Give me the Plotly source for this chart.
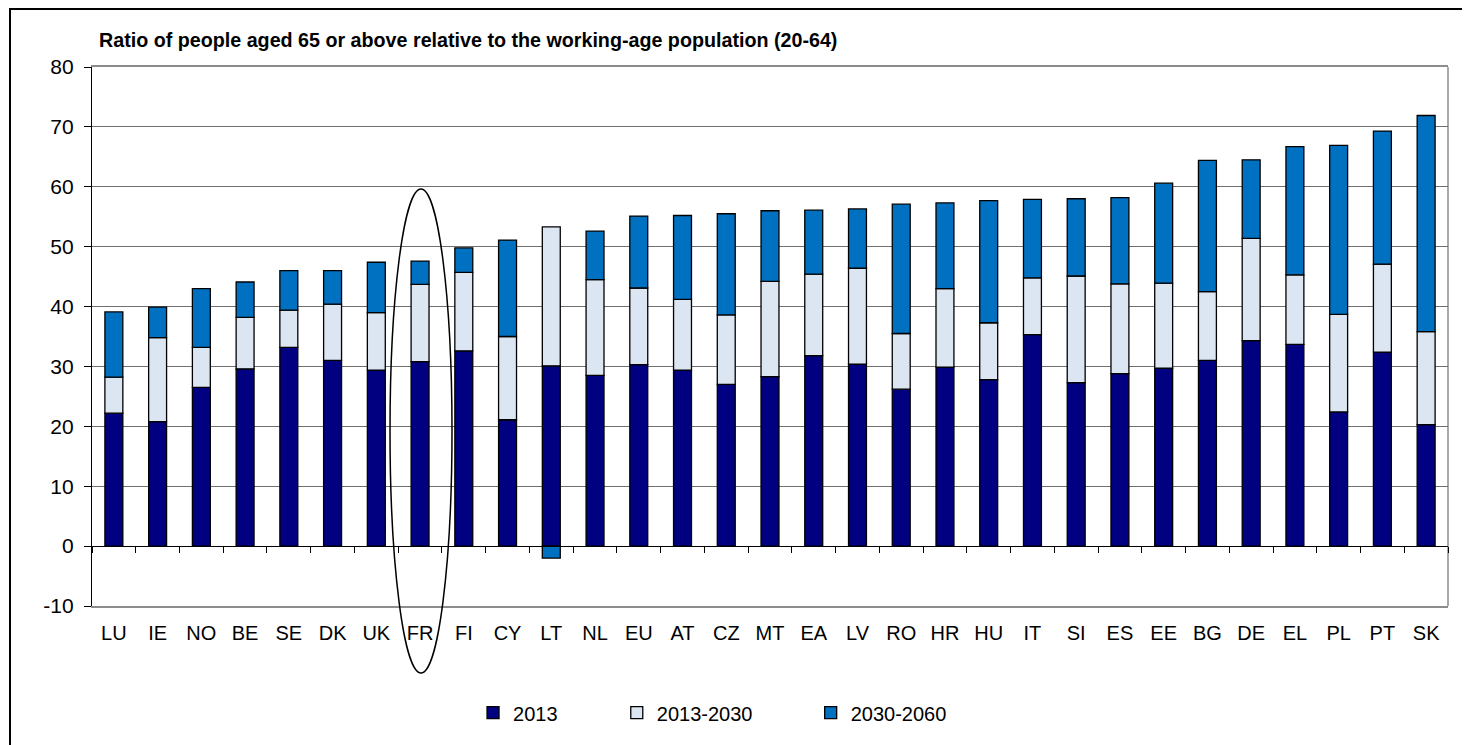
import plotly.graph_objects as go

countries = ["LU", "IE", "NO", "BE", "SE", "DK", "UK", "FR", "FI", "CY", "LT", "NL", "EU", "AT", "CZ",
             "MT", "EA", "LV", "RO", "HR", "HU", "IT", "SI", "ES", "EE", "BG", "DE", "EL", "PL", "PT", "SK"]
ratio_2013 = [22.2, 20.8, 26.5, 29.6, 33.2, 31.0, 29.4, 30.8, 32.6, 21.1, 30.1, 28.5, 30.3, 29.4, 27.0,
              28.3, 31.8, 30.4, 26.2, 29.9, 27.8, 35.3, 27.3, 28.8, 29.7, 31.0, 34.3, 33.7, 22.4, 32.4, 20.3]
change_2013_2030 = [6.0, 14.0, 6.7, 8.6, 6.2, 9.4, 9.6, 12.9, 13.1, 13.9, 23.2, 16.0, 12.8, 11.8, 11.6,
                    15.9, 13.6, 16.0, 9.3, 13.1, 9.5, 9.5, 17.8, 15.0, 14.2, 11.5, 17.1, 11.6, 16.3, 14.7, 15.5]
change_2030_2060 = [10.9, 5.1, 9.8, 5.9, 6.6, 5.6, 8.4, 3.9, 4.1, 16.1, -2.0, 8.1, 12.0, 14.0, 16.9,
                    11.8, 10.7, 9.9, 21.6, 14.3, 20.4, 13.1, 12.9, 14.4, 16.7, 21.9, 13.1, 21.4, 28.2, 22.2, 36.1]
series_names = ["2013", "2013-2030", "2030-2060"]
y_ticks = [-10, 0, 10, 20, 30, 40, 50, 60, 70, 80]
y_tick_labels = ["-10", "0", "10", "20", "30", "40", "50", "60", "70", "80"]

title_text = "Ratio of people aged 65 or above relative to the working-age population (20-64)"
FONT = "Liberation Sans, Arial, sans-serif"
colors = ["#000080", "#DCE6F2", "#0070C0"]

# page body has an 8px margin; figure is sized/margined to compensate
W, H = 1462, 737
ML, MR, MT, MB = 84, 22, 59, 139
PW, PH = W - ML - MR, H - MT - MB


def px_x(page_x):
    return (page_x - 8 - ML) / PW


def px_y(page_y):
    return (H - MB - (page_y - 8)) / PH


fig = go.Figure()
legend_ids = ["legend", "legend2", "legend3"]
for name, vals, col, lg in zip(series_names, [ratio_2013, change_2013_2030, change_2030_2060], colors, legend_ids):
    fig.add_trace(go.Bar(
        x=countries, y=vals, name=name,
        marker=dict(color=col, line=dict(color="black", width=1.3)),
        legend=lg,
    ))

# invisible helper trace for the zero-line category axis (tick marks at boundaries)
fig.add_trace(go.Scatter(x=countries, y=[0] * len(countries), xaxis="x2", mode="markers",
                         marker=dict(opacity=0), showlegend=False, hoverinfo="skip"))

leg_common = dict(orientation="h", font=dict(family=FONT, size=20, color="black"),
                  bgcolor="rgba(0,0,0,0)", itemwidth=30, yanchor="middle", xanchor="left",
                  tracegroupgap=0)
fig.update_layout(
    width=W, height=H,
    margin=dict(l=ML, r=MR, t=MT, b=MB),
    paper_bgcolor="white", plot_bgcolor="white",
    barmode="relative", bargap=0.59,
    font=dict(family=FONT, size=20, color="black"),
    legend=dict(x=0.281, y=-0.198, **leg_common),
    legend2=dict(x=0.387, y=-0.198, **leg_common),
    legend3=dict(x=0.530, y=-0.198, **leg_common),
    xaxis=dict(type="category", categoryorder="array", categoryarray=countries,
               range=[-0.5, len(countries) - 0.5], automargin=False,
               showline=True, linecolor="#8c8c8c", linewidth=1.5, mirror=True,
               ticks="", showgrid=False, ticklabelstandoff=8,
               tickfont=dict(family=FONT, size=20, color="black")),
    xaxis2=dict(type="category", categoryorder="array", categoryarray=countries,
                range=[-0.5, len(countries) - 0.5], overlaying="x", anchor="free",
                position=(0 - y_ticks[0]) / (y_ticks[-1] - y_ticks[0]),
                showline=True, linecolor="black", linewidth=1, ticks="outside",
                tickson="boundaries", ticklen=6, tickcolor="black",
                showticklabels=False, showgrid=False),
    yaxis=dict(range=[y_ticks[0], y_ticks[-1]], tickvals=y_ticks, ticktext=y_tick_labels,
               ticks="outside", ticklen=7,
               tickcolor="black", showline=True, linecolor="black", linewidth=1.3,
               showgrid=True, gridcolor="#707070", gridwidth=1, zeroline=False,
               ticklabelstandoff=6, automargin=False,
               tickfont=dict(family=FONT, size=21, color="black")),
    showlegend=True,
)

# right plot frame (gray)
fig.add_shape(type="line", xref="paper", yref="paper", x0=1, x1=1, y0=0, y1=1,
              line=dict(color="#8c8c8c", width=1.5), layer="below")

# outer chart border (top and left visible)
fig.add_shape(type="rect", xref="paper", yref="paper",
              x0=px_x(10), x1=px_x(1490),
              y0=px_y(770), y1=px_y(9),
              line=dict(color="black", width=2), fillcolor="rgba(0,0,0,0)")

# ellipse highlighting FR
fig.add_shape(type="circle", xref="paper", yref="paper",
              x0=px_x(390), x1=px_x(452),
              y0=px_y(673), y1=px_y(189),
              line=dict(color="black", width=1.5), layer="above")

fig.add_annotation(text="<b>" + title_text + "</b>", xref="paper", yref="paper",
                   x=px_x(97), y=px_y(40), xanchor="left", yanchor="middle",
                   showarrow=False, font=dict(family=FONT, size=19.7, color="black"))

fig.write_html("out.html")
